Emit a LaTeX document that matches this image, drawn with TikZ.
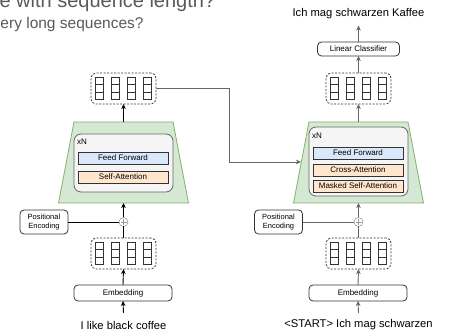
\documentclass[tikz,border=0pt]{standalone}
\usepackage{fontspec}
\setmainfont{Liberation Sans}
\usetikzlibrary{arrows.meta,calc}

\definecolor{titlegray}{HTML}{595959}
\definecolor{trapfill}{HTML}{D5E8D4}
\definecolor{trapline}{HTML}{82B366}
\definecolor{layerfill}{HTML}{F5F5F5}
\definecolor{layerline}{HTML}{666666}
\definecolor{ffnfill}{HTML}{DAE8FC}
\definecolor{attfill}{HTML}{FFE6CC}
\definecolor{boxline}{HTML}{333333}
\definecolor{wiregray}{HTML}{666666}
\definecolor{plusgray}{HTML}{999999}

% one token vector group: four columns of three cells
\tikzset{
  vecs/.pic={
    \foreach \dx in {-24,-8,8,24}{
      \foreach \k in {0,1,2}{
        \draw[boxline, line width=0.8pt] (\dx-3.75, -11+\k*7.33) rectangle ++(7.5,7.33);
      }
    }
  }
}

\begin{document}
\begin{tikzpicture}[x=1pt,y=-1pt,
  font=\fontsize{8}{9.6}\selectfont,
  every node/.style={inner sep=0pt, outer sep=0pt},
  rbox/.style={draw=boxline, fill=white, rounded corners=4pt, line width=0.8pt, align=center},
  vecbox/.style={draw=boxline, dash pattern=on 2pt off 1.5pt, rounded corners=5pt,
                 line width=0.8pt, minimum width=65pt, minimum height=31pt},
  sub/.style={draw=boxline, line width=0.8pt, minimum width=90pt, minimum height=12pt},
  layer/.style={draw=layerline, fill=layerfill, rounded corners=7pt, line width=0.8pt,
                minimum width=99pt},
  trap/.style={draw=trapline, fill=trapfill, line width=0.8pt},
  plus/.style={circle, draw=plusgray, fill=white, minimum size=9pt, line width=0.6pt,
    path picture={
      \draw[plusgray, line width=0.6pt]
        ([xshift=-3pt]path picture bounding box.center) -- ([xshift=3pt]path picture bounding box.center)
        ([yshift=-3pt]path picture bounding box.center) -- ([yshift=3pt]path picture bounding box.center);
    }},
  bigtext/.style={font=\fontsize{11.2}{13}\selectfont},
  petext/.style={font=\fontsize{7.5}{8.6}\selectfont},
  arr/.style={-{Stealth[length=5pt,width=4.5pt,inset=1.5pt]}, line width=0.9pt, draw=black},
  arrg/.style={arr, draw=wiregray},
  wire/.style={line width=0.9pt, draw=black},
  wireg/.style={line width=0.9pt, draw=wiregray},
]
\useasboundingbox (0,0) rectangle (450,336);
\clip (0,0) rectangle (450,336);

% heading lines
\node[anchor=base west, font=\fontsize{20}{24}\selectfont, text=titlegray] (head1) at (-0.5,8) {e with sequence length?};
\node[anchor=base west, font=\fontsize{15.5}{18}\selectfont, text=titlegray] (head2) at (0.5,29) {ery long sequences?};

% ---------------- encoder ----------------
\node[vecbox] (topL) at (123.5,88.5) {};
\pic at (topL) {vecs};
\path[trap] (74,122) -- (173,122) -- (188.5,203) -- (58.5,203) -- cycle;
\coordinate (encTopL) at (123.5,122);
\coordinate (encBotL) at (123.5,203);
\node[layer, minimum height=58pt] (layL) at (123.5,163) {};
\node[anchor=west] (xnL) at (77,141.5) {xN};
\node[sub, fill=ffnfill] (ffL) at (123,158) {Feed Forward};
\node[sub, fill=attfill] (saL) at (123,177) {Self-Attention};
\node[plus] (plusL) at (123.5,222) {};
\node[rbox, petext, minimum width=48pt, minimum height=24pt] (peL) at (44,222) {Positional\\Encoding};
\node[vecbox] (botL) at (123.5,253.5) {};
\pic at (botL) {vecs};
\node[rbox, minimum width=98pt, minimum height=16pt] (embL) at (123,293) {Embedding};
\node[bigtext] (inL) at (123.5,325) {I like black coffee};
\coordinate (inArrL) at (123.5,313);

\draw[arr] (inArrL) -- (embL.south);
\draw[arr] (embL.north) -- (botL.south);
\draw[wire] (botL.north) -- (plusL.south);
\draw[wire] (peL.east) -- (plusL.west);
\draw[arr] (plusL.north) -- (encBotL);
\draw[arr] (encTopL) -- (topL.south);

% ---------------- decoder ----------------
\node[bigtext] (outR) at (358.5,14) {Ich mag schwarzen Kaffee};
\coordinate (outArrR) at (358.5,25.5);
\node[rbox, minimum width=82pt, minimum height=14pt] (lcR) at (358.5,49) {Linear Classifier};
\node[vecbox] (topR) at (358.5,88.5) {};
\pic at (topR) {vecs};
\path[trap] (309,122) -- (408,122) -- (423.5,203) -- (293.5,203) -- cycle;
\coordinate (decTopR) at (358.5,122);
\coordinate (decBotR) at (358.5,203);
\node[layer, minimum height=69pt] (layR) at (358.5,161.5) {};
\node[anchor=west] (xnR) at (312,136) {xN};
\node[sub, fill=ffnfill] (ffR) at (358,153) {Feed Forward};
\node[sub, fill=attfill] (caR) at (358,170) {Cross-Attention};
\node[sub, fill=attfill] (msaR) at (358,186) {Masked Self-Attention};
\node[plus] (plusR) at (358.5,222) {};
\node[rbox, petext, minimum width=48pt, minimum height=24pt] (peR) at (278.5,222) {Positional\\Encoding};
\node[vecbox] (botR) at (358.5,253.5) {};
\pic at (botR) {vecs};
\node[rbox, minimum width=98pt, minimum height=16pt] (embR) at (358,293) {Embedding};
\node[bigtext] (inR) at (358.5,325) {<START> Ich mag schwarzen};
\coordinate (inArrR) at (358.5,313);

\draw[arrg] (inArrR) -- (embR.south);
\draw[arrg] (embR.north) -- (botR.south);
\draw[wireg] (botR.north) -- (plusR.south);
\draw[wireg] (peR.east) -- (plusR.west);
\draw[arrg] (plusR.north) -- (decBotR);
\draw[arrg] (decTopR) -- (topR.south);
\draw[arrg] (topR.north) -- (lcR.south);
\draw[arrg] (lcR.north) -- (outArrR);

% encoder output feeds the decoder
\coordinate (bendR) at (229,162);
\coordinate (decIn) at (301,162);
\draw[arrg] (topL.east) -| (bendR) -- (decIn);
\end{tikzpicture}
\end{document}
